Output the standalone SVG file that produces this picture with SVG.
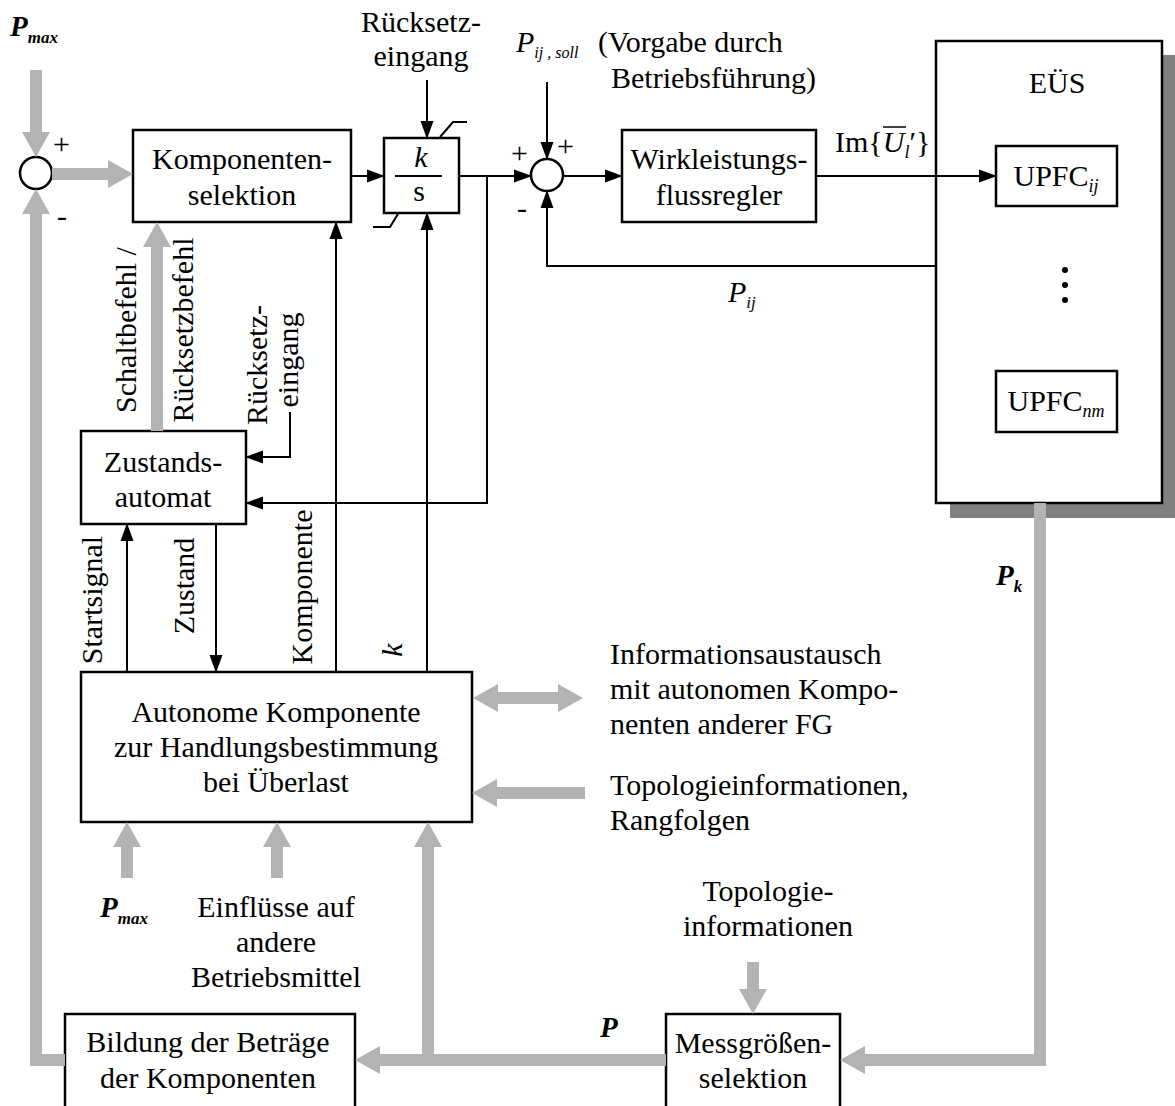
<svg xmlns="http://www.w3.org/2000/svg" width="1175" height="1106" viewBox="0 0 1175 1106">
<style>
text{font-family:"Liberation Serif","Times New Roman",serif;font-size:30px;fill:#000}
.c{text-anchor:middle}
.it{font-style:italic}
.bi{font-style:italic;font-weight:bold}
.box{fill:#fff;stroke:#000;stroke-width:2.5}
.bl{fill:none;stroke:#000;stroke-width:2}
.gr{fill:none;stroke:#b3b3b3;stroke-width:12}
</style>
<defs>
<marker id="ba" markerUnits="userSpaceOnUse" markerWidth="18" markerHeight="13" refX="17" refY="6.5" orient="auto" overflow="visible"><path d="M0,0 L18,6.5 L0,13 z" fill="#000"/></marker>
<marker id="ga" markerUnits="userSpaceOnUse" markerWidth="25" markerHeight="28" refX="0" refY="14" orient="auto-start-reverse" overflow="visible"><path d="M0,0 L25,14 L0,28 z" fill="#b3b3b3"/></marker>
</defs>

<g id="sum1"><circle cx="36" cy="173" r="16" class="box"/></g>
<g id="sum2"><circle cx="547" cy="175" r="16" class="box"/></g>

<g id="komponentenselektion">
<rect x="133" y="130" width="218" height="92" class="box"/>
<text x="242" y="169" class="c">Komponenten-</text>
<text x="242" y="205" class="c">selektion</text>
</g>

<g id="integrator">
<rect x="384" y="138" width="75" height="75" class="box"/>
<line x1="395" y1="176" x2="442" y2="176" stroke="#000" stroke-width="2"/>
<text x="421" y="167" class="c it">k</text>
<text x="419" y="201" class="c">s</text>
<path class="bl" d="M440,137 L453,122 H467"/>
<path class="bl" d="M398,214 L390,227 H373"/>
</g>

<g id="wirkleistung">
<rect x="622" y="130" width="194" height="92" class="box"/>
<text x="719" y="169" class="c">Wirkleistungs-</text>
<text x="719" y="205" class="c">flussregler</text>
</g>

<g id="eues">
<rect x="950" y="55" width="226" height="463" fill="#808080"/>
<rect x="936" y="41" width="226" height="462" class="box"/>
<text x="1057" y="93" class="c">EÜS</text>
<rect x="996" y="146" width="121" height="60" class="box" stroke-width="2"/>
<text x="1056" y="186" class="c">UPFC<tspan class="it" style="font-size:18px" dy="6">ij</tspan></text>
<circle cx="1065" cy="270" r="3"/>
<circle cx="1065" cy="285" r="3"/>
<circle cx="1065" cy="300" r="3"/>
<rect x="996" y="371" width="121" height="61" class="box" stroke-width="2"/>
<text x="1056" y="411" class="c">UPFC<tspan class="it" style="font-size:18px" dy="6">nm</tspan></text>
</g>

<g id="zustandsautomat">
<rect x="81" y="431" width="165" height="93" class="box"/>
<text x="163" y="472" class="c">Zustands-</text>
<text x="163" y="507" class="c">automat</text>
</g>

<g id="autonome">
<rect x="81" y="672" width="391" height="150" class="box"/>
<text x="276" y="722" class="c">Autonome Komponente</text>
<text x="276" y="757" class="c">zur Handlungsbestimmung</text>
<text x="276" y="792" class="c">bei Überlast</text>
</g>

<g id="bildung">
<rect x="65" y="1014" width="290" height="110" class="box"/>
<text x="208" y="1052" class="c">Bildung der Beträge</text>
<text x="208" y="1088" class="c">der Komponenten</text>
</g>

<g id="messgroessen">
<rect x="666" y="1014" width="174" height="110" class="box"/>
<text x="753" y="1053" class="c">Messgrößen-</text>
<text x="753" y="1088" class="c">selektion</text>
</g>

<g id="labels">
<text x="10" y="36" class="bi" style="font-size:29px">P<tspan style="font-size:17px" dy="7">max</tspan></text>
<text x="53" y="154">+</text>
<text x="57" y="226">-</text>
<text x="421" y="32" class="c">Rücksetz-</text>
<text x="421" y="66" class="c">eingang</text>
<text x="511" y="163">+</text>
<text x="557" y="156">+</text>
<text x="517" y="218">-</text>
<text x="516" y="52" class="it">P<tspan style="font-size:16px" dy="6">ij , soll</tspan></text>
<text x="598" y="52">(Vorgabe durch</text>
<text x="611" y="88">Betriebsführung)</text>
<text x="835" y="152">Im{<tspan class="it">U</tspan><tspan class="it" style="font-size:18px" dy="6">l</tspan><tspan dy="-6">′</tspan>}</text>
<line x1="883" y1="127" x2="906" y2="127" stroke="#000" stroke-width="1.5"/>
<text x="728" y="302" class="it">P<tspan style="font-size:17px" dy="6">ij</tspan></text>
<text x="996" y="585" class="bi" style="font-size:29px">P<tspan style="font-size:17px" dy="7">k</tspan></text>
<text transform="translate(136,330) rotate(-90)" class="c">Schaltbefehl /</text>
<text transform="translate(193,330) rotate(-90)" class="c">Rücksetzbefehl</text>
<text transform="translate(267,365) rotate(-90)" class="c">Rücksetz-</text>
<text transform="translate(298,360) rotate(-90)" class="c">eingang</text>
<text transform="translate(102,600) rotate(-90)" class="c">Startsignal</text>
<text transform="translate(194,586) rotate(-90)" class="c">Zustand</text>
<text transform="translate(312,587) rotate(-90)" class="c">Komponente</text>
<text transform="translate(402,650) rotate(-90)" class="c it">k</text>
<text x="610" y="664">Informationsaustausch</text>
<text x="610" y="699">mit autonomen Kompo-</text>
<text x="610" y="734">nenten anderer FG</text>
<text x="610" y="795">Topologieinformationen,</text>
<text x="610" y="830">Rangfolgen</text>
<text x="100" y="917" class="bi" style="font-size:29px">P<tspan style="font-size:17px" dy="7">max</tspan></text>
<text x="276" y="917" class="c">Einflüsse auf</text>
<text x="276" y="952" class="c">andere</text>
<text x="276" y="987" class="c">Betriebsmittel</text>
<text x="768" y="901" class="c">Topologie-</text>
<text x="768" y="936" class="c">informationen</text>
<text x="600" y="1037" class="bi" style="font-size:29px">P</text>
</g>

<g id="connectors">
<path class="gr" d="M36,70 V132" marker-end="url(#ga)"/>
<path class="gr" d="M52,174 H108" marker-end="url(#ga)"/>
<path class="gr" d="M65,1060 H36 V214" marker-end="url(#ga)"/>
<path class="gr" d="M157,431 V247" marker-end="url(#ga)"/>
<path class="gr" d="M498,698 H558" marker-start="url(#ga)" marker-end="url(#ga)"/>
<path class="gr" d="M585,793 H497" marker-end="url(#ga)"/>
<path class="gr" d="M127,878 V847" marker-end="url(#ga)"/>
<path class="gr" d="M277,878 V847" marker-end="url(#ga)"/>
<path class="gr" d="M428,1060 V847" marker-end="url(#ga)"/>
<path class="gr" d="M666,1060 H380" marker-end="url(#ga)"/>
<path class="gr" d="M753,962 V989" marker-end="url(#ga)"/>
<path class="gr" d="M1040,503 V1060 H865" marker-end="url(#ga)"/>
<path class="bl" d="M351,176 H384" marker-end="url(#ba)"/>
<path class="bl" d="M427,80 V138" marker-end="url(#ba)"/>
<path class="bl" d="M459,176 H531" marker-end="url(#ba)"/>
<path class="bl" d="M487,176 V503 H246" marker-end="url(#ba)"/>
<path class="bl" d="M547,82 V159" marker-end="url(#ba)"/>
<path class="bl" d="M563,176 H622" marker-end="url(#ba)"/>
<path class="bl" d="M816,176 H996" marker-end="url(#ba)"/>
<path class="bl" d="M936,266 H547 V191" marker-end="url(#ba)"/>
<path class="bl" d="M290,412 V457 H246" marker-end="url(#ba)"/>
<path class="bl" d="M127,672 V524" marker-end="url(#ba)"/>
<path class="bl" d="M216,524 V672" marker-end="url(#ba)"/>
<path class="bl" d="M336,672 V222" marker-end="url(#ba)"/>
<path class="bl" d="M427,672 V213" marker-end="url(#ba)"/>
</g>
</svg>
